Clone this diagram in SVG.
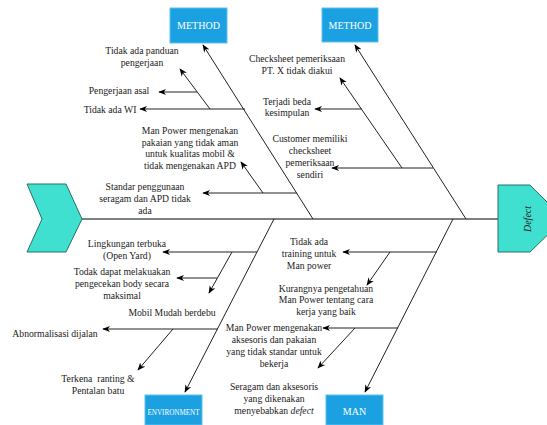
<svg xmlns="http://www.w3.org/2000/svg" width="547" height="425" viewBox="0 0 547 425">
<style>
.lbl{font-family:"Liberation Serif","Times New Roman",serif;font-size:9.7px;fill:#222;text-anchor:middle}
.cat{font-family:"Liberation Serif","Times New Roman",serif;font-size:10px;fill:#fff;text-anchor:middle}
.box{fill:#1ba1e2;stroke:#5cc0ee;stroke-width:1}
.arr{stroke:#222;stroke-width:1;fill:none;marker-end:url(#ah)}
.head{fill:#40e0d0;stroke:#2a6f68;stroke-width:1}
</style>
<defs>
<marker id="ah" viewBox="0 0 10 10" refX="9" refY="5" markerWidth="8" markerHeight="8" orient="auto" markerUnits="userSpaceOnUse">
<path d="M0,1 L10,5 L0,9 L3,5 z" fill="#000"/>
</marker>
</defs>
<rect width="547" height="425" fill="#fff"/>

<g id="connectors">
<path d="M82,219 H498" stroke="#555" stroke-width="1.5" fill="none"/>
<path class="arr" d="M313,219 L203,45"/>
<path class="arr" d="M466,219 L355,45"/>
<path class="arr" d="M274,219 L185,392"/>
<path class="arr" d="M453,219 L365,392"/>
<path class="arr" d="M245,109 H140"/>
<path class="arr" d="M210,109 L180,69"/>
<path class="arr" d="M197,92 H159"/>
<path class="arr" d="M297,193 H203"/>
<path class="arr" d="M263,193 L241,162"/>
<path class="arr" d="M433,168 H332"/>
<path class="arr" d="M402,168 L340,78"/>
<path class="arr" d="M362,109 H315"/>
<path class="arr" d="M257,252 H163"/>
<path class="arr" d="M232,252 L209,293"/>
<path class="arr" d="M217,278 H177"/>
<path class="arr" d="M218,329 H103"/>
<path class="arr" d="M173,329 L138,370"/>
<path class="arr" d="M437,252 H343"/>
<path class="arr" d="M390,252 L367,285"/>
<path class="arr" d="M398,328 H323"/>
<path class="arr" d="M355,328 L318,368"/>
</g>

<g id="problem-start">
<polygon class="head" points="27,184 66,184 82,219 66,252 27,252 42,219"/>
</g>
<g id="defect">
<polygon class="head" points="498,185 530,185 564,219 530,252 498,252"/>
<text transform="translate(527,219) rotate(-90)" font-family="Liberation Serif, serif" font-size="10" font-style="italic" fill="#222" text-anchor="middle" dy="3.5">Defect</text>
</g>

<g id="method-1">
<rect class="box" x="170" y="8" width="57" height="35"/>
<text class="cat" x="198.5" y="29">METHOD</text>
</g>
<g id="method-2">
<rect class="box" x="322" y="8" width="56" height="34"/>
<text class="cat" x="350" y="29">METHOD</text>
</g>
<g id="environment">
<rect class="box" x="145" y="395" width="57" height="30"/>
<text class="cat" x="173.5" y="415" style="font-size:8.5px" textLength="52" lengthAdjust="spacingAndGlyphs">ENVIRONMENT</text>
</g>
<g id="man">
<rect class="box" x="326" y="395" width="57" height="30"/>
<text class="cat" x="354.5" y="415">MAN</text>
</g>

<g id="c1"><text class="lbl" x="142" y="53.5">Tidak ada panduan<tspan x="142" dy="12">pengerjaan</tspan></text></g>
<g id="c2"><text class="lbl" x="119" y="93.5">Pengerjaan asal</text></g>
<g id="c3"><text class="lbl" x="110" y="112.5">Tidak ada WI</text></g>
<g id="c4"><text class="lbl" x="190" y="133.5">Man Power mengenakan<tspan x="190" dy="12">pakaian yang tidak aman</tspan><tspan x="190" dy="11.7">untuk kualitas mobil &amp;</tspan><tspan x="190" dy="11.7">tidak mengenakan APD</tspan></text></g>
<g id="c5"><text class="lbl" x="145" y="189.5">Standar penggunaan<tspan x="145" dy="12">seragam dan APD tidak</tspan><tspan x="145" dy="12">ada</tspan></text></g>
<g id="c6"><text class="lbl" x="297" y="61.5">Checksheet pemeriksaan<tspan x="297" dy="12">PT. X tidak diakui</tspan></text></g>
<g id="c7"><text class="lbl" x="287" y="104.5">Terjadi beda<tspan x="287" dy="11.5">kesimpulan</tspan></text></g>
<g id="c8"><text class="lbl" x="310" y="141.5">Customer memiliki<tspan x="310" dy="12">checksheet</tspan><tspan x="310" dy="12">pemeriksaan</tspan><tspan x="310" dy="12">sendiri</tspan></text></g>
<g id="c9"><text class="lbl" x="127" y="246.5">Lingkungan terbuka<tspan x="127" dy="12">(Open Yard)</tspan></text></g>
<g id="c10"><text class="lbl" x="122" y="274.5">Todak dapat melakuakan<tspan x="122" dy="12">pengecekan body secara</tspan><tspan x="122" dy="12">maksimal</tspan></text></g>
<g id="c11"><text class="lbl" x="172" y="315.5">Mobil Mudah berdebu</text></g>
<g id="c12"><text class="lbl" x="55" y="336.5">Abnormalisasi dijalan</text></g>
<g id="c13"><text class="lbl" x="98" y="381.5" xml:space="preserve">Terkena  ranting &amp;<tspan x="98" dy="12.5">Pentalan batu</tspan></text></g>
<g id="c14"><text class="lbl" x="309" y="244.5">Tidak ada<tspan x="309" dy="12">training untuk</tspan><tspan x="309" dy="12">Man power</tspan></text></g>
<g id="c15"><text class="lbl" x="326" y="291.5">Kurangnya pengetahuan<tspan x="326" dy="11.5">Man Power tentang cara</tspan><tspan x="326" dy="11.5">kerja yang baik</tspan></text></g>
<g id="c16"><text class="lbl" x="274" y="330.5">Man Power mengenakan<tspan x="274" dy="12">aksesoris dan pakaian</tspan><tspan x="274" dy="12">yang tidak standar untuk</tspan><tspan x="274" dy="12">bekerja</tspan></text></g>
<g id="c17"><text class="lbl" x="274" y="389.5">Seragam dan aksesoris<tspan x="274" dy="12">yang dikenakan</tspan><tspan x="274" dy="12">menyebabkan <tspan font-style="italic">defect</tspan></tspan></text></g>
</svg>
